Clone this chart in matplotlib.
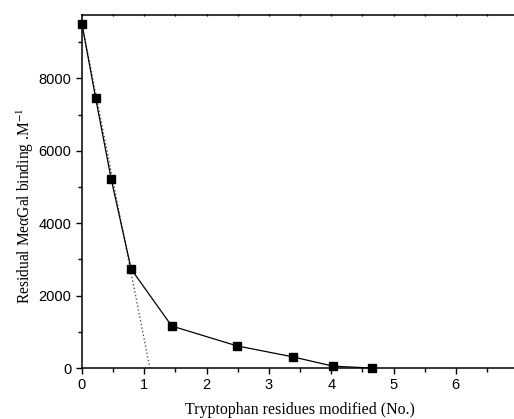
import numpy as np
import matplotlib.pyplot as plt
from matplotlib.ticker import MultipleLocator, FixedLocator

plt.rcParams['mathtext.fontset'] = 'stix'

# data
trp_modified = [0.0, 0.22, 0.47, 0.79, 1.44, 2.49, 3.38, 4.03, 4.65]
residual_binding = [9500, 7450, 5210, 2730, 1160, 610, 310, 50, 0]
fit_x = [0.0, 1.09]
fit_y = [9500, 0]
x_ticks = [0, 1, 2, 3, 4, 5, 6]

fig = plt.figure(figsize=(5.14, 4.19), dpi=100)
ax = fig.add_axes([0.1595, 0.1217, 0.8485, 0.8425])

ax.plot(fit_x, fit_y, ':', color='#555555', lw=1.0)
ax.plot(trp_modified, residual_binding, '-', color='black', lw=0.9,
        marker='s', ms=5.5, mfc='black', mec='black', clip_on=False, zorder=3)

ax.set_xlim(0, 7)
ax.set_ylim(0, 9750)
ax.xaxis.set_major_locator(FixedLocator(x_ticks))
ax.xaxis.set_minor_locator(MultipleLocator(0.5))
ax.yaxis.set_major_locator(MultipleLocator(2000))
ax.yaxis.set_minor_locator(MultipleLocator(1000))

ax.spines['right'].set_visible(False)
for s in ['left', 'bottom', 'top']:
    ax.spines[s].set_linewidth(1.1)

ax.tick_params(axis='both', which='major', direction='out', length=4, width=1,
               labelsize=10.5, top=False, right=False)
ax.tick_params(axis='both', which='minor', direction='out', length=3, width=1,
               top=False, right=False)
ax2 = ax.secondary_xaxis('top')
ax2.xaxis.set_major_locator(MultipleLocator(0.5))
ax2.tick_params(direction='inout', length=2, width=1, labeltop=False)
ax2.spines['top'].set_visible(False)

for lab in ax.get_xticklabels() + ax.get_yticklabels():
    lab.set_family('Liberation Sans')

ax.set_xlabel('Tryptophan residues modified (No.)', family='Liberation Serif',
              fontsize=11.4, labelpad=7)
ax.set_ylabel('Residual MeαGal binding .M$^{-1}$', family='Liberation Serif',
              fontsize=11.2)
ax.yaxis.set_label_coords(-0.105, 0.46)

fig.savefig('out.png', dpi=100)
